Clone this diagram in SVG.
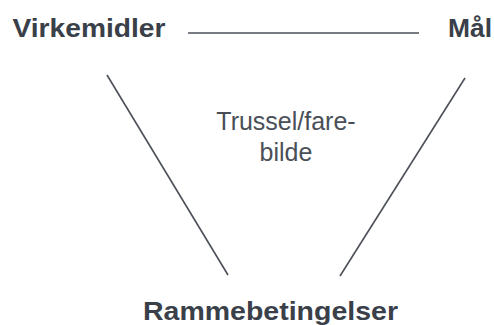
<svg xmlns="http://www.w3.org/2000/svg" width="494" height="325" viewBox="0 0 494 325">
  <style>
    .label { font-family: "Liberation Sans", Arial, sans-serif; fill: #3a4049; }
    .bold { font-weight: bold; font-size: 26px; }
    .plain { font-size: 25px; fill: #4a4f57; }
    .edge { stroke: #4b5058; stroke-width: 1.6; fill: none; }
  </style>
  <rect width="494" height="325" fill="#ffffff"/>
  <g id="connectors">
    <line class="edge" x1="188" y1="33" x2="419" y2="33"/>
    <line class="edge" x1="107" y1="75" x2="228" y2="275"/>
    <line class="edge" x1="465" y1="78" x2="340" y2="276"/>
  </g>
  <g id="virkemidler">
    <text class="label bold" x="12.5" y="37" textLength="153" lengthAdjust="spacingAndGlyphs">Virkemidler</text>
  </g>
  <g id="maal">
    <text class="label bold" x="448" y="37" textLength="44" lengthAdjust="spacingAndGlyphs">Mål</text>
  </g>
  <g id="rammebetingelser">
    <text class="label bold" x="143" y="320" textLength="255" lengthAdjust="spacingAndGlyphs">Rammebetingelser</text>
  </g>
  <g id="trusselbilde">
    <text class="label plain" x="286" y="130" text-anchor="middle">Trussel/fare-</text>
    <text class="label plain" x="286" y="161" text-anchor="middle">bilde</text>
  </g>
</svg>
